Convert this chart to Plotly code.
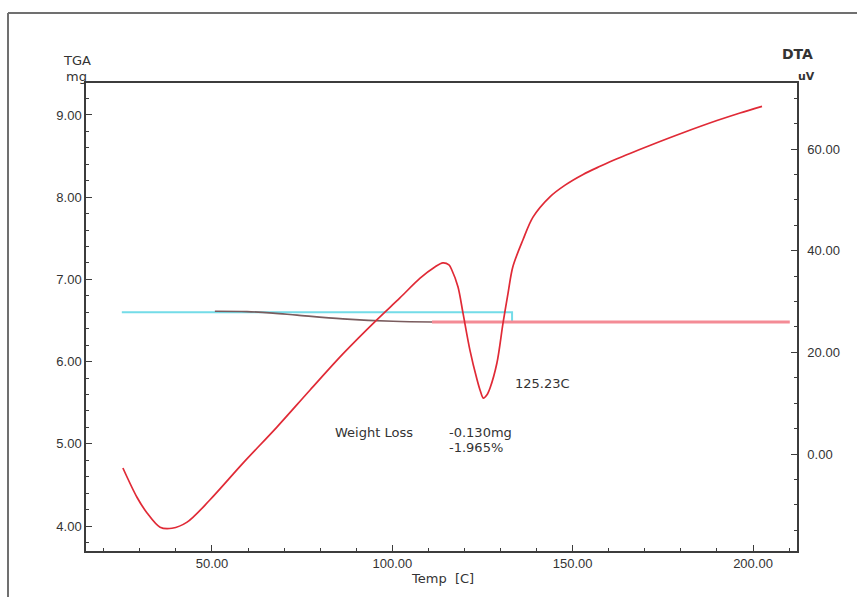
import plotly.graph_objects as go

# DTA signal (uV) against temperature (C)
dta_temp = [25.3, 29.2, 32.0, 35.6, 38.9, 43.1, 49.4, 58.6, 68.0, 77.2, 86.3, 95.7,
            102.1, 107.7, 111.8, 114.0, 115.7, 116.5, 118.2, 119.6, 121.5, 123.5,
            124.4, 125.23, 126.2, 127.1, 129.0, 130.7, 132.1, 133.4, 136.2, 139.0,
            143.7, 147.9, 152.9, 157.6, 162.3, 171.4, 180.6, 190.0, 196.4, 202.5]
dta_uv = [-2.75, -8.5, -11.6, -14.4, -14.6, -13.4, -9.05, -1.8, 5.3, 12.6, 19.7, 26.4,
          30.7, 34.6, 36.8, 37.6, 37.2, 36.2, 32.9, 27.7, 20.5, 14.6,
          12.4, 11.0, 11.6, 13.0, 17.9, 25.8, 31.7, 36.8, 42.1, 46.6,
          50.6, 52.9, 55.0, 56.6, 58.1, 60.7, 63.2, 65.6, 67.1, 68.4]

# TGA mass (mg): analysed step, then the remaining plateau
tga_step_temp = [50.8, 59.7, 66.9, 73.6, 86.3, 100.2, 111.0]
tga_step_mg = [6.612, 6.608, 6.590, 6.565, 6.520, 6.490, 6.482]
tga_rest_temp = [111.0, 210.2]
tga_rest_mg = [6.482, 6.482]

# Weight-loss reference level
ref_temp = [25.0, 133.2, 133.2]
ref_mg = [6.600, 6.600, 6.482]

peak_temp = 125.23
loss_mg = -0.130
loss_pct = -1.965

x_ticks = [50, 100, 150, 200]
tga_ticks = [4, 5, 6, 7, 8, 9]
dta_ticks = [0, 20, 40, 60]

TICK_FONT = "Liberation Sans, Arial, sans-serif"
NOTE_FONT = "DejaVu Sans, Verdana, sans-serif"
TXT = "#333333"
AX = "#3c3c3c"

fig = go.Figure()
fig.add_trace(go.Scatter(x=ref_temp, y=ref_mg, mode="lines",
                         line=dict(color="#74dce8", width=2), yaxis="y"))
fig.add_trace(go.Scatter(x=tga_rest_temp, y=tga_rest_mg, mode="lines",
                         line=dict(color="#f48b95", width=3), yaxis="y"))
fig.add_trace(go.Scatter(x=tga_step_temp, y=tga_step_mg, mode="lines",
                         line=dict(color="#7a5c5e", width=1.6, shape="spline"), yaxis="y"))
fig.add_trace(go.Scatter(x=dta_temp, y=dta_uv, mode="lines",
                         line=dict(color="#e02a36", width=1.7, shape="spline", smoothing=0.9),
                         yaxis="y2"))

tick_font = dict(family=TICK_FONT, size=13, color=TXT)

fig.update_layout(
    width=857, height=597,
    margin=dict(l=86, r=60, t=83, b=46),
    paper_bgcolor="white", plot_bgcolor="white",
    showlegend=False,
    xaxis=dict(range=[15.07, 212.2], tickvals=x_ticks,
               ticktext=[f"{v:.2f}" for v in x_ticks],
               ticks="inside", ticklen=6, tickwidth=1, tickcolor=AX,
               minor=dict(dtick=10, tick0=0, ticks="inside", ticklen=3, tickcolor=AX),
               showline=True, linecolor=AX, linewidth=1.5, mirror=True,
               showgrid=False, zeroline=False, tickfont=tick_font),
    yaxis=dict(range=[3.696, 9.389], tickvals=tga_ticks,
               ticktext=[f"{v:.2f}" for v in tga_ticks],
               ticks="inside", ticklen=6, tickwidth=1, tickcolor=AX,
               minor=dict(dtick=0.2, tick0=0, ticks="inside", ticklen=3, tickcolor=AX),
               showline=True, linecolor=AX, linewidth=1.5,
               showgrid=False, zeroline=False, tickfont=tick_font),
    yaxis2=dict(range=[-19.08, 72.99], tickvals=dta_ticks,
                ticktext=[f"{v:.2f}" for v in dta_ticks],
                overlaying="y", side="right",
                ticks="inside", ticklen=6, tickwidth=1, tickcolor=AX,
                minor=dict(dtick=5, tick0=0, ticks="inside", ticklen=3, tickcolor=AX),
                showline=True, linecolor=AX, linewidth=1.5,
                ticklabelstandoff=6,
                showgrid=False, zeroline=False, tickfont=tick_font),
)

# outer frame (top and left edges)
frame = dict(type="line", xref="paper", yref="paper",
             line=dict(color="#707070", width=2), layer="below")
fig.add_shape(**frame, x0=-0.1097, x1=1.25, y0=1.1496, y1=1.1496)
fig.add_shape(**frame, x0=-0.1097, x1=-0.1097, y0=-0.2, y1=1.1496)


def note(text, x, y, xref="x", yref="y2", size=13, bold=False, xanchor="left"):
    if bold:
        text = f"<b>{text}</b>"
    fig.add_annotation(text=text, x=x, y=y, xref=xref, yref=yref, showarrow=False,
                       xanchor=xanchor, yanchor="middle",
                       font=dict(family=NOTE_FONT, size=size, color=TXT))


# axis titles
note("TGA", -0.013, 1.049, xref="paper", yref="paper", xanchor="center")
note("mg", -0.013, 1.013, xref="paper", yref="paper", xanchor="center")
note("DTA", 1.0, 1.062, xref="paper", yref="paper", size=14, bold=True, xanchor="center")
note("uV", 1.013, 1.013, xref="paper", yref="paper", size=11, bold=True, xanchor="center")
note("Temp&nbsp;&nbsp;[C]", 0.501, -0.058, xref="paper", yref="paper", xanchor="center")

# dip and weight-loss labels
note(f"{peak_temp:.2f}C", 133.4, 13.8)
note("Weight Loss", 83.5, 4.3)
note(f"{loss_mg:.3f}mg", 115.1, 4.3)
note(f"{loss_pct:.3f}%", 115.1, 1.2)

fig.write_html("out.html", config={"displayModeBar": False})
